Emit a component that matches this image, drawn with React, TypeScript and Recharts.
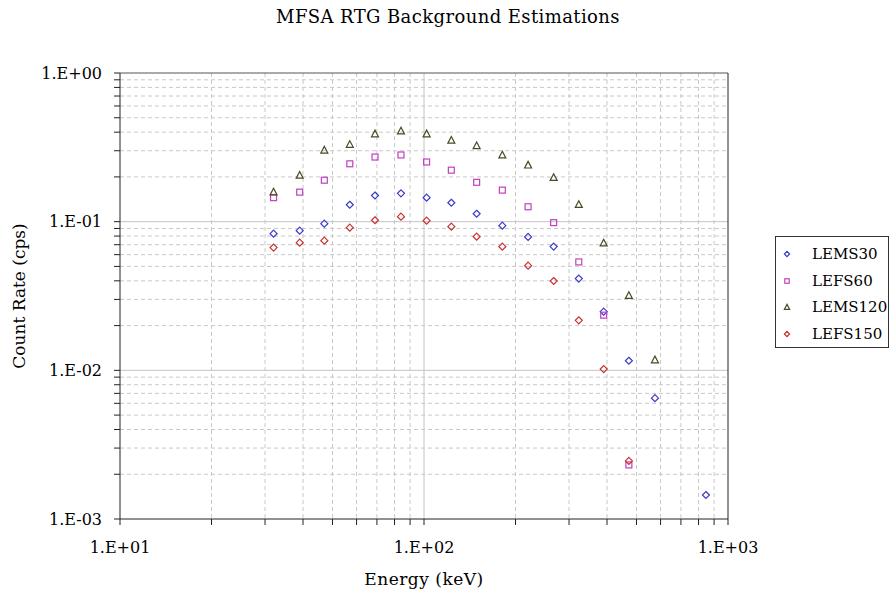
import React from 'react';
import { ScatterChart, Scatter, XAxis, YAxis, CartesianGrid, ReferenceLine, Legend } from 'recharts';

const energyKeV = [32, 39, 47, 57, 69, 84, 102, 123, 149, 181, 220, 267, 323, 390, 472, 575, 846];
const lems30 = [0.083, 0.087, 0.097, 0.13, 0.15, 0.155, 0.145, 0.134, 0.113, 0.094, 0.079, 0.068, 0.0414, 0.0248, 0.0116, 0.0065, 0.00145];
const lefs60 = [0.145, 0.158, 0.19, 0.245, 0.272, 0.281, 0.252, 0.222, 0.184, 0.163, 0.126, 0.0985, 0.0536, 0.0235, 0.00231];
const lems120 = [0.159, 0.206, 0.304, 0.332, 0.391, 0.409, 0.391, 0.354, 0.325, 0.282, 0.241, 0.199, 0.131, 0.0722, 0.032, 0.0118];
const lefs150 = [0.0669, 0.0722, 0.0745, 0.0911, 0.1022, 0.108, 0.1016, 0.0926, 0.0793, 0.0679, 0.0506, 0.0399, 0.0217, 0.0102, 0.00246];

const seriesNames = ['LEMS30', 'LEFS60', 'LEMS120', 'LEFS150'];
const seriesColors = ['#3a3ac8', '#c040c0', '#4a4a26', '#c83030'];
const seriesShapes = ['diamond', 'square', 'triangle', 'diamond'];

const xTicks = [10, 20, 30, 40, 50, 60, 70, 80, 90, 100, 200, 300, 400, 500, 600, 700, 800, 900, 1000];
const yTicks = [0.001, 0.002, 0.003, 0.004, 0.005, 0.006, 0.007, 0.008, 0.009, 0.01, 0.02, 0.03, 0.04, 0.05, 0.06, 0.07, 0.08, 0.09, 0.1, 0.2, 0.3, 0.4, 0.5, 0.6, 0.7, 0.8, 0.9, 1];
const xMinorGrid = [20, 30, 40, 50, 60, 70, 80, 90, 200, 300, 400, 500, 600, 700, 800, 900];
const yMinorGrid = [0.002, 0.003, 0.004, 0.005, 0.006, 0.007, 0.008, 0.009, 0.02, 0.03, 0.04, 0.05, 0.06, 0.07, 0.08, 0.09, 0.2, 0.3, 0.4, 0.5, 0.6, 0.7, 0.8, 0.9];
const xMajorGrid = [100];
const yMajorGrid = [0.1, 0.01];

const FONT = "'DejaVu Serif', serif";

const toPoints = (vals: number[]) => vals.map((v, i) => ({ x: energyKeV[i], y: v }));
const seriesData = [toPoints(lems30), toPoints(lefs60), toPoints(lems120), toPoints(lefs150)];

const sciFormat = (v: number) => {
  const e = Math.log10(v);
  const r = Math.round(e);
  if (Math.abs(e - r) > 1e-9) return '';
  const sign = r >= 0 ? '+' : '-';
  const a = Math.abs(r);
  return '1.E' + sign + (a < 10 ? '0' + a : String(a));
};

const Marker = ({ kind, color, cx, cy, s }: { kind: string; color: string; cx: number; cy: number; s: number }) => {
  if (kind === 'square') {
    return <rect x={cx - s * 0.85} y={cy - s * 0.85} width={s * 1.7} height={s * 1.7} fill="none" stroke={color} strokeWidth={1.2} />;
  }
  if (kind === 'triangle') {
    const pts = `${cx},${cy - s} ${cx + s},${cy + s * 0.9} ${cx - s},${cy + s * 0.9}`;
    return <polygon points={pts} fill="none" stroke={color} strokeWidth={1.2} />;
  }
  const pts = `${cx},${cy - s} ${cx + s},${cy} ${cx},${cy + s} ${cx - s},${cy}`;
  return <polygon points={pts} fill="none" stroke={color} strokeWidth={1.2} />;
};

const makeShape = (kind: string, color: string) => (props: any) => (
  <Marker kind={kind} color={color} cx={props.cx} cy={props.cy} s={3.5} />
);

const renderLegend = () => (
  <div
    style={{
      border: '1px solid #333',
      background: '#fff',
      width: 112,
      padding: '4px 0 0 0',
      fontFamily: FONT,
      fontSize: 15,
      color: '#000',
      boxSizing: 'content-box',
    }}
  >
    {seriesNames.map((n, i) => (
      <div key={n} style={{ display: 'flex', alignItems: 'center', height: 26.5 }}>
        <svg width={30} height={14} style={{ flex: 'none' }}>
          <Marker kind={seriesShapes[i]} color={seriesColors[i]} cx={11} cy={7} s={2.6} />
        </svg>
        <span style={{ marginLeft: 6, whiteSpace: 'nowrap' }}>{n}</span>
      </div>
    ))}
  </div>
);

export default function App() {
  return (
    <div style={{ position: 'absolute', left: 0, top: 0, width: 896, height: 597, background: '#fff' }}>
      <div
        style={{
          position: 'absolute',
          left: 0,
          top: 6,
          width: 896,
          textAlign: 'center',
          fontFamily: FONT,
          fontSize: 18,
          letterSpacing: 0.4,
          color: '#000',
        }}
      >
        MFSA RTG Background Estimations
      </div>
      <ScatterChart width={896} height={597} margin={{ top: 73, right: 54, bottom: 0, left: 0 }}>
        <CartesianGrid
          horizontalValues={yMinorGrid}
          verticalValues={xMinorGrid}
          stroke="#c8c8c8"
          strokeDasharray="4 3"
        />
        {xMajorGrid.map((v) => (
          <ReferenceLine key={'xg' + v} x={v} stroke="#c4c4c4" strokeWidth={1} />
        ))}
        {yMajorGrid.map((v) => (
          <ReferenceLine key={'yg' + v} y={v} stroke="#c4c4c4" strokeWidth={1} />
        ))}
        <ReferenceLine y={1} stroke="#555" strokeWidth={1} />
        <ReferenceLine x={1000} stroke="#222" strokeWidth={1} />
        <XAxis
          dataKey="x"
          type="number"
          scale="log"
          domain={[10, 1000]}
          allowDataOverflow
          ticks={xTicks}
          interval={0}
          tickFormatter={sciFormat}
          height={78}
          tickSize={6}
          tickMargin={17}
          stroke="#222"
          tick={{ fill: '#000', fontFamily: FONT, fontSize: 16 }}
          label={{ value: 'Energy (keV)', position: 'insideBottom', offset: 12, fill: '#000', fontFamily: FONT, fontSize: 17, letterSpacing: 0.5 }}
        />
        <YAxis
          dataKey="y"
          type="number"
          scale="log"
          domain={[0.001, 1]}
          allowDataOverflow
          ticks={yTicks}
          interval={0}
          tickFormatter={sciFormat}
          width={120}
          tickSize={6}
          tickMargin={12}
          stroke="#222"
          tick={{ fill: '#000', fontFamily: FONT, fontSize: 16 }}
          label={{ value: 'Count Rate (cps)', angle: -90, position: 'insideLeft', offset: 19, fill: '#000', fontFamily: FONT, fontSize: 17, style: { textAnchor: 'middle' } }}
        />
        <Legend
          content={renderLegend}
          layout="vertical"
          verticalAlign="top"
          align="right"
          wrapperStyle={{ left: 775, top: 236, width: 114 }}
        />
        {seriesNames.map((n, i) => (
          <Scatter
            key={n}
            name={n}
            data={seriesData[i]}
            fill={seriesColors[i]}
            shape={makeShape(seriesShapes[i], seriesColors[i])}
            isAnimationActive={false}
          />
        ))}
      </ScatterChart>
    </div>
  );
}
